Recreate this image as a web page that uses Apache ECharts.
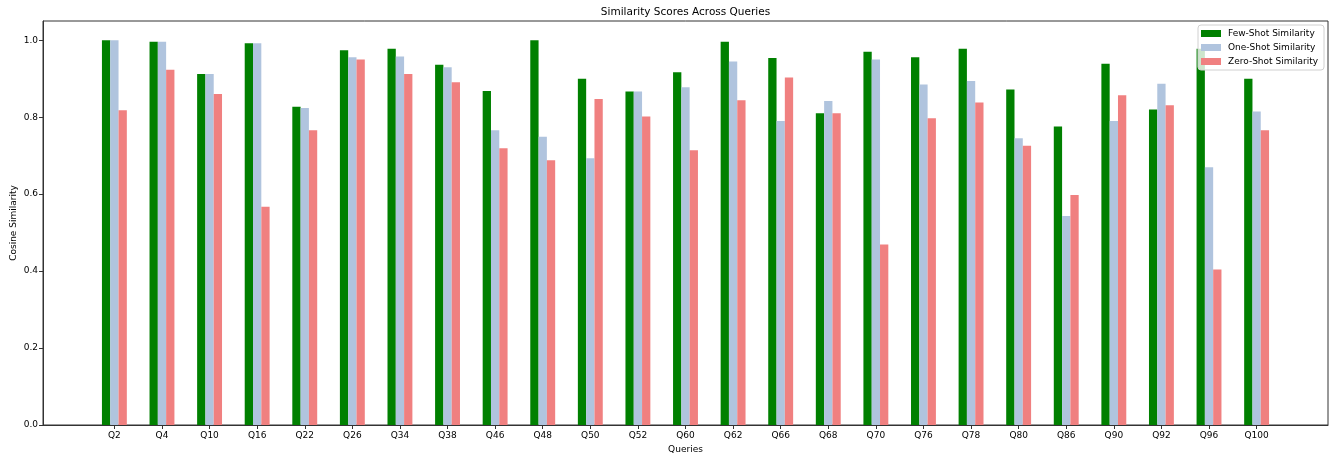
<!DOCTYPE html>
<html>
<head>
<meta charset="utf-8">
<script src="https://cdn.jsdelivr.net/npm/echarts@6/dist/echarts.min.js"></script>
<style>html,body{margin:0;padding:0;background:#fff;}#c{width:1333px;height:456px;}</style>
</head>
<body>
<div id="c"></div>
<script>
const categories = ['Q2','Q4','Q10','Q16','Q22','Q26','Q34','Q38','Q46','Q48','Q50','Q52','Q60','Q62','Q66','Q68','Q70','Q76','Q78','Q80','Q86','Q90','Q92','Q96','Q100'];
const fewShot  = [1.000,0.996,0.912,0.992,0.827,0.974,0.978,0.936,0.868,1.000,0.900,0.867,0.917,0.996,0.954,0.810,0.970,0.956,0.978,0.872,0.776,0.939,0.820,0.978,0.900];
const oneShot  = [1.000,0.996,0.912,0.992,0.824,0.956,0.958,0.930,0.766,0.749,0.693,0.867,0.878,0.945,0.790,0.842,0.950,0.885,0.894,0.745,0.543,0.790,0.887,0.670,0.815];
const zeroShot = [0.818,0.923,0.860,0.567,0.766,0.950,0.912,0.891,0.719,0.688,0.847,0.802,0.714,0.844,0.903,0.810,0.469,0.797,0.838,0.726,0.598,0.857,0.831,0.404,0.766];
const yTicks = [0.0,0.2,0.4,0.6,0.8,1.0];

const FONT = 'DejaVu Sans';
const axisData = [''].concat(categories, ['']);
const pad = arr => ['-'].concat(arr, ['-']);

const chart = echarts.init(document.getElementById('c'), null, {renderer:'canvas'});
const barBase = {type:'bar', barWidth:8.3, barGap:'0%', animation:false};
chart.setOption({
  animation:false,
  backgroundColor:'#fff',
  graphic:[{type:'text', x:685.5, y:12, style:{text:'Similarity Scores Across Queries', font:'10.5px "DejaVu Sans"', fill:'#000', textAlign:'center', textVerticalAlign:'middle'}}],
  grid:{left:43, right:5, top:21, bottom:31, containLabel:false, outerBoundsMode:'none', show:true, borderColor:'#333', borderWidth:1, backgroundColor:'transparent'},
  legend:{
    orient:'vertical', right:9, top:25, icon:'rect', itemWidth:20, itemHeight:7, itemGap:5,
    padding:[4,6,4,3], backgroundColor:'rgba(255,255,255,0.8)', borderColor:'#d0d0d0', borderWidth:1, borderRadius:3,
    textStyle:{fontFamily:FONT, fontSize:9, color:'#000', padding:[0,0,0,2]},
    data:['Few-Shot Similarity','One-Shot Similarity','Zero-Shot Similarity']
  },
  xAxis:{
    type:'category', data:axisData, boundaryGap:true,
    name:'Queries', nameLocation:'middle', nameGap:20, nameMoveOverlap:false,
    nameTextStyle:{fontFamily:FONT, fontSize:9, color:'#000'},
    axisLine:{show:true, lineStyle:{color:'#333', width:1}},
    axisTick:{show:true, alignWithLabel:true, length:4, interval:(i)=> i>0 && i<axisData.length-1, lineStyle:{color:'#333'}},
    axisLabel:{interval:0, fontFamily:FONT, fontSize:9, color:'#000', margin:6},
    splitLine:{show:false}
  },
  yAxis:{
    type:'value', min:0, max:1.05, interval:0.2,
    name:'Cosine Similarity', nameLocation:'middle', nameGap:25, nameRotate:90, nameMoveOverlap:false,
    nameTextStyle:{fontFamily:FONT, fontSize:9, color:'#000'},
    axisLine:{show:true, lineStyle:{color:'#333', width:1}},
    axisTick:{show:true, length:4, lineStyle:{color:'#333'}},
    axisLabel:{fontFamily:FONT, fontSize:9, color:'#000', margin:5, showMaxLabel:false,
      formatter:v=>{ const t = yTicks.find(x=>Math.abs(x-v)<1e-6); return t===undefined?'':t.toFixed(1); }},
    splitLine:{show:false}
  },
  series:[
    Object.assign({}, barBase, {name:'Few-Shot Similarity', data:pad(fewShot), itemStyle:{color:'#008000'}}),
    Object.assign({}, barBase, {name:'One-Shot Similarity', data:pad(oneShot), itemStyle:{color:'#b0c4de'}}),
    Object.assign({}, barBase, {name:'Zero-Shot Similarity', data:pad(zeroShot), itemStyle:{color:'#f08080'}})
  ]
});
</script>
</body>
</html>
